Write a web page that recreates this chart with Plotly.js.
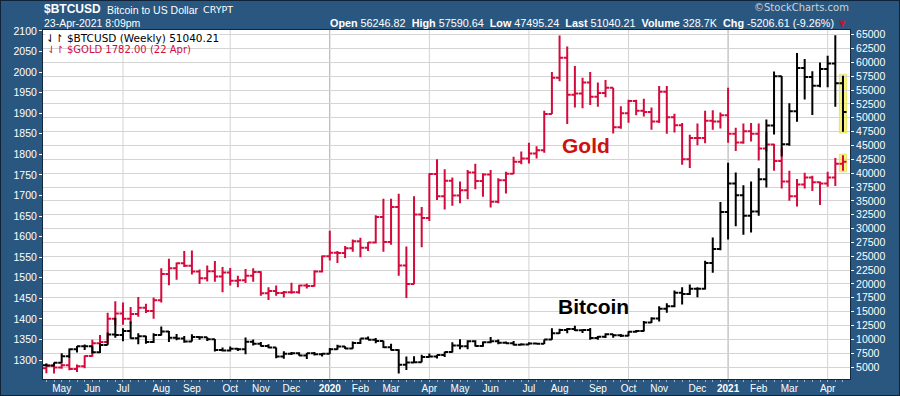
<!DOCTYPE html>
<html><head><meta charset="utf-8">
<script src="https://cdn.plot.ly/plotly-3.0.1.min.js"></script>
<style>
html,body{margin:0;padding:0;background:#29577f;}
#wrap{position:relative;width:900px;height:396px;}
#chart{width:900px;height:396px;}
#frame{position:absolute;left:0;top:0;width:898px;height:394px;border:1px solid #0f2236;pointer-events:none;}
</style></head>
<body><div id="wrap"><div id="chart"></div><div id="frame"></div></div>
<script>
// Weekly bar dates (Monday of each week)
const weeks = [
'2019-04-22','2019-04-29','2019-05-06','2019-05-13','2019-05-20','2019-05-27','2019-06-03','2019-06-10','2019-06-17','2019-06-24',
'2019-07-01','2019-07-08','2019-07-15','2019-07-22','2019-07-29','2019-08-05','2019-08-12','2019-08-19','2019-08-26','2019-09-02',
'2019-09-09','2019-09-16','2019-09-23','2019-09-30','2019-10-07','2019-10-14','2019-10-21','2019-10-28','2019-11-04','2019-11-11',
'2019-11-18','2019-11-25','2019-12-02','2019-12-09','2019-12-16','2019-12-23','2019-12-30','2020-01-06','2020-01-13','2020-01-20',
'2020-01-27','2020-02-03','2020-02-10','2020-02-17','2020-02-24','2020-03-02','2020-03-09','2020-03-16','2020-03-23','2020-03-30',
'2020-04-06','2020-04-13','2020-04-20','2020-04-27','2020-05-04','2020-05-11','2020-05-18','2020-05-25','2020-06-01','2020-06-08',
'2020-06-15','2020-06-22','2020-06-29','2020-07-06','2020-07-13','2020-07-20','2020-07-27','2020-08-03','2020-08-10','2020-08-17',
'2020-08-24','2020-08-31','2020-09-07','2020-09-14','2020-09-21','2020-09-28','2020-10-05','2020-10-12','2020-10-19','2020-10-26',
'2020-11-02','2020-11-09','2020-11-16','2020-11-23','2020-11-30','2020-12-07','2020-12-14','2020-12-21','2020-12-28','2021-01-04',
'2021-01-11','2021-01-18','2021-01-25','2021-02-01','2021-02-08','2021-02-15','2021-02-22','2021-03-01','2021-03-08','2021-03-15',
'2021-03-22','2021-03-29','2021-04-05','2021-04-12','2021-04-19'];

// $GOLD weekly OHLC (left axis)
const goldOpen = [1280,1286,1282,1287,1278,1285,1310,1341,1344,1400,1413,1400,1412,1427,1419,1445,1509,1523,1535,1529,
1515,1499,1516,1503,1513,1493,1494,1505,1514,1462,1468,1463,1465,1465,1481,1480,1515,1552,1561,1560,
1572,1589,1573,1586,1648,1587,1672,1530,1485,1654,1645,1752,1698,1736,1700,1713,1756,1735,1751,1685,
1737,1753,1782,1790,1802,1810,1898,1986,2035,1945,1948,1975,1940,1949,1962,1866,1900,1930,1906,1903,
1880,1952,1890,1871,1788,1840,1840,1882,1880,1895,1850,1829,1856,1850,1814,1824,1784,1734,1698,1727,
1744,1732,1729,1744,1777];
const goldHigh = [1291,1290,1291,1304,1289,1311,1349,1361,1415,1443,1440,1429,1453,1437,1452,1523,1546,1537,1565,1566,
1520,1530,1541,1526,1524,1505,1521,1523,1516,1477,1481,1468,1488,1483,1486,1518,1554,1614,1565,1577,
1593,1597,1587,1652,1692,1692,1704,1576,1698,1672,1754,1788,1764,1744,1734,1762,1777,1754,1762,1742,
1758,1794,1807,1828,1820,1906,2000,2089,2062,2015,1986,2000,1975,1981,1962,1917,1933,1933,1935,1914,
1966,1966,1899,1876,1848,1875,1906,1907,1902,1962,1865,1875,1876,1875,1855,1826,1816,1760,1740,1755,
1748,1734,1758,1791,1798];
const goldLow = [1268,1267,1279,1275,1271,1280,1308,1326,1340,1385,1386,1389,1405,1414,1400,1440,1482,1495,1526,1508,
1485,1491,1490,1465,1481,1477,1487,1490,1456,1446,1456,1452,1461,1461,1474,1479,1513,1542,1536,1548,
1563,1550,1565,1583,1563,1580,1505,1451,1484,1574,1638,1689,1666,1675,1681,1691,1715,1697,1671,1681,
1705,1752,1776,1778,1790,1804,1898,1978,1874,1914,1912,1920,1916,1939,1851,1862,1877,1895,1892,1860,
1876,1850,1853,1775,1767,1822,1827,1860,1863,1828,1808,1826,1831,1785,1807,1760,1717,1687,1673,1717,
1711,1677,1721,1723,1760];
const goldClose = [1286,1282,1287,1278,1285,1310,1341,1344,1400,1413,1400,1412,1427,1419,1445,1509,1523,1535,1529,1515,
1499,1516,1503,1513,1493,1494,1505,1514,1462,1468,1463,1465,1465,1481,1480,1515,1552,1561,1560,1572,
1589,1573,1586,1648,1587,1672,1530,1485,1654,1645,1752,1698,1736,1700,1713,1756,1735,1751,1685,1737,
1753,1782,1790,1802,1810,1898,1986,2035,1945,1948,1975,1940,1949,1962,1866,1900,1930,1906,1903,1880,
1952,1890,1871,1788,1840,1840,1882,1880,1895,1850,1829,1856,1850,1814,1824,1784,1734,1698,1727,1744,
1732,1729,1744,1777,1782];

// $BTCUSD weekly OHLC (right axis)
const btcOpen = [5330,5290,5750,6960,8200,8740,8740,7650,8990,10850,10800,11480,10200,10540,9530,10800,11400,10300,10150,9600,
10400,10360,10030,8050,7990,8300,8220,9550,9200,8800,8500,6900,7400,7500,7100,7500,7300,7400,8200,8700,
8350,9350,10150,9900,9700,8550,8050,5400,5830,5880,6800,6900,7150,7700,8900,8750,9650,8800,9450,9650,
9400,9300,9000,9050,9250,9200,9950,11100,11700,11850,11650,11700,10250,10450,10900,10750,10650,11380,11480,13030,
13750,15500,15950,18400,18180,19150,19150,23800,26300,33000,38150,36000,32300,33100,38900,48600,57500,45200,51200,59000,
57350,55800,58800,59800,56250];
const btcHigh = [5630,5820,7500,8350,8810,9080,8760,9330,11250,13880,12000,13200,11100,10650,11100,12320,11500,10950,10600,10900,
10450,10370,10050,8500,8700,8450,10350,9950,9500,9100,8520,7850,7700,7650,7520,7700,7550,8450,9000,8750,
9600,10150,10500,10250,9750,9200,8200,6900,6950,7200,7450,7200,7750,9450,10000,9850,9850,9600,10400,9950,
9600,9700,9300,9450,9350,9950,12000,11900,12050,12450,11750,12050,10600,11100,10950,10950,11450,11700,13300,14000,
15950,16500,18800,19400,19900,19400,24200,28400,34800,41900,40100,37800,38500,40900,49700,58350,57550,52600,61700,60600,
58400,60000,61200,64900,57590];
const btcLow = [5170,5130,5700,6600,7600,8050,7450,7520,8990,10300,9650,10100,9100,9200,9350,10700,9500,9850,9400,9600,
9900,9700,7800,7800,7800,7900,7300,8900,8700,8400,6600,6500,7150,7050,6450,7100,6900,7350,8100,8250,
8300,9150,9900,9300,8450,8000,3850,4450,5700,5850,6750,6550,6800,7600,8200,8200,8700,8650,9300,9100,
9200,8900,8950,9000,9100,9150,9900,11000,11100,11500,11150,9900,9900,10250,10300,10400,10550,11200,11400,12950,
13200,14800,15800,16300,18000,17600,19000,22000,26100,28000,30400,28900,29300,32300,37400,47000,43000,44950,49300,53300,
50500,55500,55500,52000,47495];
const btcClose = [5290,5750,6960,8200,8740,8740,7650,8990,10850,10800,11480,10200,10540,9530,10800,11400,10300,10150,9600,10400,
10360,10030,8050,7990,8300,8220,9550,9200,8800,8500,6900,7400,7500,7100,7500,7300,7400,8200,8700,8350,
9350,10150,9900,9700,8550,8050,5400,5830,5880,6800,6900,7150,7700,8900,8750,9650,8800,9450,9650,9400,
9300,9000,9050,9250,9200,9950,11100,11700,11850,11650,11700,10250,10450,10900,10750,10650,11380,11480,13030,13750,
15500,15950,18400,18180,19150,19150,23800,26300,33000,38150,36000,32300,33100,38900,48600,57500,45200,51200,59000,57350,
55800,58800,59800,56250,51040];

// Axis labels
const monthTicks = ['2019-05-06','2019-06-03','2019-07-01','2019-08-05','2019-09-02','2019-10-07','2019-11-04','2019-12-02',
'2020-01-06','2020-02-03','2020-03-02','2020-04-06','2020-05-04','2020-06-01','2020-07-06','2020-08-03','2020-09-07','2020-10-05','2020-11-02','2020-12-07',
'2021-01-04','2021-02-01','2021-03-01','2021-04-05'];
const monthLabels = ['May','Jun','Jul','Aug','Sep','Oct','Nov','Dec','<b>2020</b>','Feb','Mar','Apr','May','Jun','Jul','Aug','Sep','Oct','Nov','Dec','<b>2021</b>','Feb','Mar','Apr'];
const quarterLines = ['2019-07-01','2019-10-07','2020-04-06','2020-07-06','2020-10-05','2021-04-05'];
const yearLines = ['2020-01-06','2021-01-04'];

const GOLD_RED = '#d40a3c';
const W = 900, H = 396, L = 43, R = 850, T = 30, B = 379;
const px = v => (v - L) / (R - L);
const py = v => (B - v) / (B - T);
const DAY = 864e5;
const shiftDate = (d, days) => new Date(new Date(d + 'T00:00:00Z').getTime() + days * DAY).toISOString().slice(0, 19).replace('T', ' ');

const gold = {type:'ohlc', x:weeks, open:goldOpen, high:goldHigh, low:goldLow, close:goldClose,
  xaxis:'x', yaxis:'y', tickwidth:0.46, hoverinfo:'skip', showlegend:false,
  increasing:{line:{color:GOLD_RED, width:2}}, decreasing:{line:{color:GOLD_RED, width:2}}};
const btc = {type:'ohlc', x:weeks, open:btcOpen, high:btcHigh, low:btcLow, close:btcClose,
  xaxis:'x', yaxis:'y2', tickwidth:0.46, hoverinfo:'skip', showlegend:false,
  increasing:{line:{color:'#000000', width:2}}, decreasing:{line:{color:'#000000', width:2}}};

const last = weeks.length - 1;
const shapes = [];
quarterLines.forEach(d => shapes.push({type:'line', xref:'x', yref:'paper', x0:d, x1:d, y0:0, y1:1, layer:'below', line:{color:'#d2d2d2', width:1}}));
yearLines.forEach(d => shapes.push({type:'line', xref:'x', yref:'paper', x0:d, x1:d, y0:0, y1:1, layer:'below', line:{color:'#a9a9a9', width:1}}));
shapes.push({type:'rect', xref:'x', yref:'y2', x0:shiftDate(weeks[last], -3.3), x1:shiftDate(weeks[last], 3.3),
  y0:btcLow[last] - 250, y1:btcHigh[last] + 250, layer:'below', fillcolor:'#f9f47e', line:{color:'#e9e270', width:1}});
shapes.push({type:'rect', xref:'x', yref:'y', x0:shiftDate(weeks[last], -3.3), x1:shiftDate(weeks[last], 3.3),
  y0:goldLow[last] - 2.5, y1:goldHigh[last] + 2.5, layer:'below', fillcolor:'#f9f47e', line:{color:'#e9e270', width:1}});

const white = '#ffffff';
const SANS = 'Liberation Sans, Arial, sans-serif';
const VERD = 'DejaVu Sans, Verdana, sans-serif';
const nb = '\u00a0';
const stats = '<b>Open</b>' + nb + '56246.82' + nb + nb + '<b>High</b>' + nb + '57590.64' + nb + nb + '<b>Low</b>' + nb + '47495.24' + nb + nb +
  '<b>Last</b>' + nb + '51040.21' + nb + nb + '<b>Volume</b>' + nb + '328.7K' + nb + nb + '<b>Chg</b>' + nb + '-5206.61' + nb + '(-9.26%)' + nb +
  '<span style="color:#d0102a">▼</span>';

const annotations = [
  {text:'<b>$BTCUSD</b>', x:px(42), y:py(9), xref:'paper', yref:'paper', xanchor:'left', yanchor:'middle', showarrow:false, font:{family:SANS, size:12, color:white}},
  {text:'Bitcoin to US Dollar', x:px(105), y:py(9.5), xref:'paper', yref:'paper', xanchor:'left', yanchor:'middle', showarrow:false, font:{family:SANS, size:10.5, color:white}},
  {text:'CRYPT', x:px(201), y:py(10), xref:'paper', yref:'paper', xanchor:'left', yanchor:'middle', showarrow:false, font:{family:VERD, size:9.5, color:white}},
  {text:'23-Apr-2021 8:09pm', x:px(42), y:py(23), xref:'paper', yref:'paper', xanchor:'left', yanchor:'middle', showarrow:false, font:{family:SANS, size:10.5, color:white}},
  {text:stats, x:px(850), y:py(23), xref:'paper', yref:'paper', xanchor:'right', yanchor:'middle', showarrow:false, font:{family:SANS, size:10.8, color:white}},
  {text:'©StockCharts.com', x:px(851), y:py(8), xref:'paper', yref:'paper', xanchor:'right', yanchor:'middle', showarrow:false, font:{family:VERD, size:10, color:'#c9d3de'}},
  {text:'⇃↾ $BTCUSD (Weekly) 51040.21', x:px(45), y:py(30.5), xref:'paper', yref:'paper', xanchor:'left', yanchor:'top', showarrow:false, bgcolor:'#ffffff', borderpad:0, font:{family:VERD, size:10.5, color:'#000000'}},
  {text:'⇃↾ $GOLD 1782.00 (22 Apr)', x:px(45), y:py(41.5), xref:'paper', yref:'paper', xanchor:'left', yanchor:'top', showarrow:false, font:{family:VERD, size:10, color:GOLD_RED}},
  {text:'<b>Gold</b>', x:px(586), y:py(145), xref:'paper', yref:'paper', xanchor:'center', yanchor:'middle', showarrow:false, font:{family:SANS, size:21, color:'#cc1111'}},
  {text:'<b>Bitcoin</b>', x:px(593), y:py(306), xref:'paper', yref:'paper', xanchor:'center', yanchor:'middle', showarrow:false, font:{family:SANS, size:21, color:'#000000'}}
];

const layout = {
  width:W, height:H, margin:{l:L, r:W - R, t:T, b:H - B, pad:0},
  paper_bgcolor:'#29577f', plot_bgcolor:'#ffffff',
  font:{family:SANS, color:white, size:10},
  showlegend:false, dragmode:false,
  xaxis:{type:'date', range:['2019-04-18 22:00', '2021-04-25 10:00'], tickvals:monthTicks, ticktext:monthLabels,
    ticks:'', showgrid:false, zeroline:false, showline:true, linecolor:'#13283d', linewidth:1, mirror:true,
    tickfont:{family:SANS, size:10, color:white}, rangeslider:{visible:false},
    minor:{ticks:'outside', ticklen:2, tickcolor:'#9fb4c8', tick0:'2019-04-22', dtick:7 * DAY, showgrid:false}},
  yaxis:{range:[1253.8, 2102.4], tick0:1300, dtick:50, side:'left', showgrid:false, zeroline:false,
    ticks:'outside', ticklen:3, tickcolor:white, showline:true, linecolor:'#13283d', mirror:true,
    tickfont:{family:SANS, size:10.5, color:white}},
  yaxis2:{range:[2835, 65848], tick0:5000, dtick:2500, overlaying:'y', side:'right', showgrid:true, gridcolor:'#d4d4d4', gridwidth:1,
    zeroline:false, ticks:'outside', ticklen:3, tickcolor:white, tickformat:'d',
    tickfont:{family:SANS, size:10.5, color:white}},
  shapes:shapes, annotations:annotations
};

Plotly.newPlot('chart', [gold, btc], layout, {staticPlot:true, displayModeBar:false});
</script></body></html>
